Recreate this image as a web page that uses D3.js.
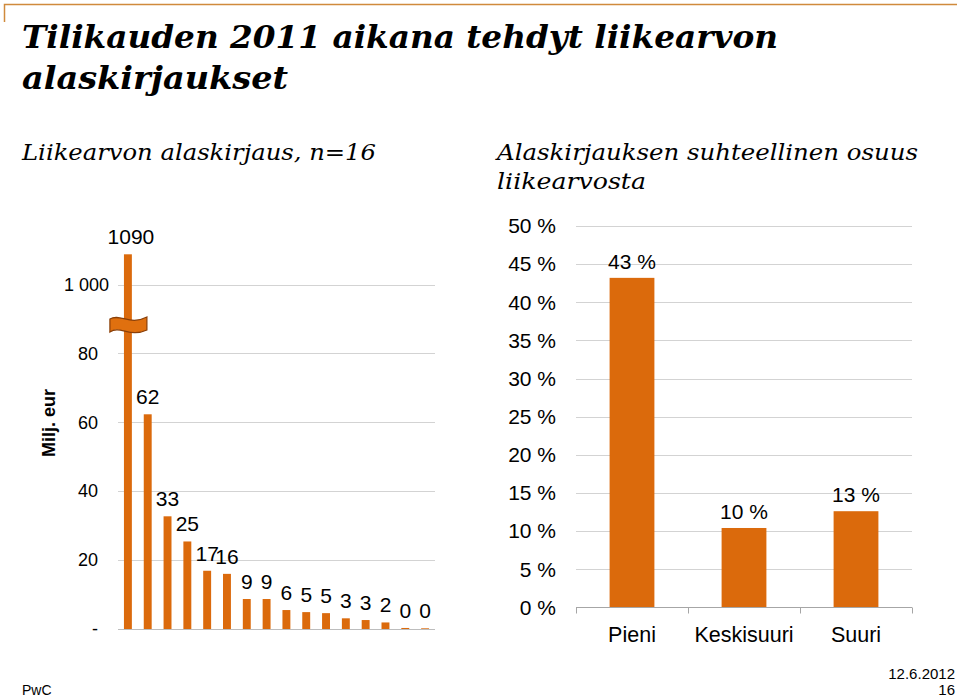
<!DOCTYPE html>
<html>
<head>
<meta charset="utf-8">
<script src="https://cdn.jsdelivr.net/npm/d3@7"></script>
<style>
  html, body { margin: 0; padding: 0; background: #fff; }
  svg { display: block; }
</style>
</head>
<body>
<svg id="chart" width="960" height="697"></svg>
<script>
// ---- data ----
const leftCategories = d3.range(1, 17).map(String);
const leftValues = [1090, 62.3, 32.7, 25.4, 16.9, 16.0, 8.7, 8.7, 5.5, 4.9, 4.6, 3.1, 2.6, 1.9, 0.3, 0.2];
const leftTicks = [0, 20, 40, 60, 80, 1000];
const leftTickLabels = ["-", "20", "40", "60", "80", "1 000"];

const rightCategories = ["Pieni", "Keskisuuri", "Suuri"];
const rightValues = [0.432, 0.104, 0.126];
const rightTicks = [0, 0.05, 0.10, 0.15, 0.20, 0.25, 0.30, 0.35, 0.40, 0.45, 0.50];

const titleLines = ["Tilikauden 2011 aikana tehdyt liikearvon", "alaskirjaukset"];
const leftSubtitle = ["Liikearvon alaskirjaus, n=16"];
const rightSubtitle = ["Alaskirjauksen suhteellinen osuus", "liikearvosta"];

// ---- styles ----
const ORANGE = "#db6a0c";
const GRID = "#d3d3d3";
const SANS = "'Liberation Sans', Arial, sans-serif";
const SERIF = "'DejaVu Serif', Georgia, serif";

const svg = d3.select("#chart");

// frame accent
svg.append("path")
  .attr("d", "M4.5,22 V4.5 H957")
  .attr("fill", "none").attr("stroke", "#d08a3c").attr("stroke-width", 1.5);

// title
const title = svg.append("g").attr("font-family", SERIF).attr("font-style", "italic")
  .attr("font-weight", "bold").attr("fill", "#000");
title.append("text").attr("x", 22).attr("y", 48).attr("font-size", 32)
  .attr("textLength", 756).attr("lengthAdjust", "spacingAndGlyphs").text(titleLines[0]);
title.append("text").attr("x", 22).attr("y", 89).attr("font-size", 32)
  .attr("textLength", 266).attr("lengthAdjust", "spacingAndGlyphs").text(titleLines[1]);

const sub = svg.append("g").attr("font-family", SERIF).attr("font-style", "italic").attr("fill", "#000");
sub.append("text").attr("x", 22).attr("y", 160).attr("font-size", 23)
  .attr("textLength", 354).attr("lengthAdjust", "spacingAndGlyphs").text(leftSubtitle[0]);
sub.append("text").attr("x", 497).attr("y", 160).attr("font-size", 23)
  .attr("textLength", 421).attr("lengthAdjust", "spacingAndGlyphs").text(rightSubtitle[0]);
sub.append("text").attr("x", 497).attr("y", 189).attr("font-size", 23)
  .attr("textLength", 149).attr("lengthAdjust", "spacingAndGlyphs").text(rightSubtitle[1]);

// ---- left chart ----
const xL = d3.scaleBand().domain(leftCategories).range([118, 435]).paddingInner(0.6).paddingOuter(0.3);
const yL = d3.scaleLinear().domain([0, 80, 1000, 1090]).range([629, 353.3, 285, 254.3]);

const gL = svg.append("g").attr("font-family", SANS);

gL.selectAll("line.grid").data(leftTicks.filter(d => d > 0)).enter().append("line")
  .attr("class", "grid")
  .attr("x1", 118).attr("x2", 435)
  .attr("y1", d => Math.round(yL(d)) + 0.5).attr("y2", d => Math.round(yL(d)) + 0.5)
  .attr("stroke", GRID).attr("stroke-width", 1);

gL.append("line").attr("x1", 118).attr("x2", 435)
  .attr("y1", Math.round(yL(0)) + 0.5).attr("y2", Math.round(yL(0)) + 0.5)
  .attr("stroke", "#bdbdbd").attr("stroke-width", 1);

gL.selectAll("text.tick").data(leftTicks).enter().append("text")
  .attr("class", "tick")
  .attr("x", d => d === 1000 ? 109 : 98)
  .attr("y", d => yL(d))
  .attr("dy", "0.35em")
  .attr("text-anchor", "end")
  .attr("font-size", 18)
  .attr("fill", "#000")
  .text((d, i) => leftTickLabels[i]);

gL.append("text")
  .attr("transform", "translate(55,423) rotate(-90)")
  .attr("text-anchor", "middle")
  .attr("font-size", 18).attr("font-weight", "bold")
  .text("Milj. eur");

gL.selectAll("rect.bar").data(leftValues).enter().append("rect")
  .attr("class", "bar")
  .attr("x", (d, i) => xL(leftCategories[i]))
  .attr("width", xL.bandwidth())
  .attr("y", d => yL(d))
  .attr("height", d => yL(0) - yL(d))
  .attr("fill", ORANGE);

gL.selectAll("text.lbl").data(leftValues).enter().append("text")
  .attr("class", "lbl")
  .attr("x", (d, i) => xL(leftCategories[i]) + xL.bandwidth() / 2 + (i === 0 ? 3 : 0))
  .attr("y", d => yL(d) - 10)
  .attr("text-anchor", "middle")
  .attr("font-size", 21)
  .attr("fill", "#000")
  .text(d => d3.format(".0f")(d));

// axis break symbol on the first bar
const bx = xL(leftCategories[0]) + xL.bandwidth() / 2;
const by = 325;
svg.append("path")
  .attr("transform", `translate(${bx},${by})`)
  .attr("d", "M-18,-6 C-8,-12 2,1 19,-8 L19,5 C2,13 -8,0 -18,7 Z")
  .attr("fill", "#e0700f").attr("stroke", "#8a3f08").attr("stroke-width", 1.2);

// ---- right chart ----
const xR = d3.scaleBand().domain(rightCategories).range([576, 912]).paddingInner(0.6).paddingOuter(0.3);
const yR = d3.scaleLinear().domain([0, 0.5]).range([607.3, 226]);

const gR = svg.append("g").attr("font-family", SANS);

gR.selectAll("line.grid").data(rightTicks.filter(d => d > 0)).enter().append("line")
  .attr("class", "grid")
  .attr("x1", 576).attr("x2", 912)
  .attr("y1", d => Math.round(yR(d)) + 0.5).attr("y2", d => Math.round(yR(d)) + 0.5)
  .attr("stroke", GRID).attr("stroke-width", 1);

gR.selectAll("text.tick").data(rightTicks).enter().append("text")
  .attr("class", "tick")
  .attr("x", 556).attr("y", d => yR(d)).attr("dy", "0.35em")
  .attr("text-anchor", "end").attr("font-size", 21).attr("fill", "#000")
  .text(d => Math.round(d * 100) + " %");

gR.selectAll("rect.bar").data(rightValues).enter().append("rect")
  .attr("class", "bar")
  .attr("x", (d, i) => xR(rightCategories[i]))
  .attr("width", xR.bandwidth())
  .attr("y", d => yR(d))
  .attr("height", d => yR(0) - yR(d))
  .attr("fill", ORANGE);

const axisY = Math.round(yR(0)) + 0.5;
gR.append("line").attr("x1", 576).attr("x2", 912).attr("y1", axisY).attr("y2", axisY)
  .attr("stroke", "#a6a6a6").attr("stroke-width", 1);
const tickXs = [576].concat(rightCategories.map(c => xR(c) + xR.bandwidth() / 2 + xR.step() / 2));
gR.selectAll("line.xt").data(tickXs).enter().append("line")
  .attr("class", "xt")
  .attr("x1", d => Math.round(d) + 0.5).attr("x2", d => Math.round(d) + 0.5)
  .attr("y1", axisY).attr("y2", axisY + 6)
  .attr("stroke", "#a6a6a6").attr("stroke-width", 1);

gR.selectAll("text.cat").data(rightCategories).enter().append("text")
  .attr("class", "cat")
  .attr("x", d => xR(d) + xR.bandwidth() / 2)
  .attr("y", 642)
  .attr("text-anchor", "middle").attr("font-size", 21.5).attr("fill", "#000")
  .text(d => d);

gR.selectAll("text.lbl").data(rightValues).enter().append("text")
  .attr("class", "lbl")
  .attr("x", (d, i) => xR(rightCategories[i]) + xR.bandwidth() / 2)
  .attr("y", d => yR(d) - 9)
  .attr("text-anchor", "middle").attr("font-size", 21).attr("fill", "#000")
  .text(d => Math.round(d * 100) + " %");

// ---- footer ----
const foot = svg.append("g").attr("font-family", SANS).attr("font-size", 15).attr("fill", "#000");
foot.append("text").attr("x", 22).attr("y", 695).attr("font-size", 14).text("PwC");
foot.append("text").attr("x", 955).attr("y", 679).attr("text-anchor", "end").text("12.6.2012");
foot.append("text").attr("x", 955).attr("y", 695).attr("text-anchor", "end").text("16");
</script>
</body>
</html>
